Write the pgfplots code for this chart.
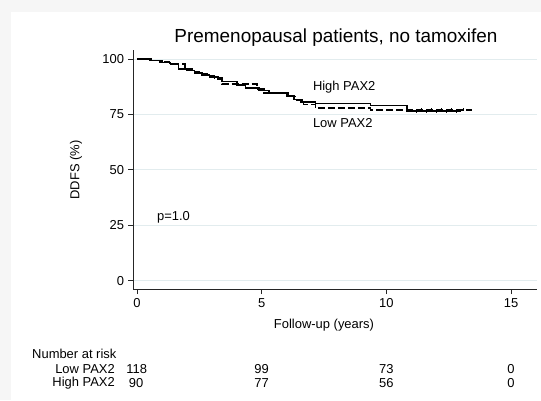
\documentclass[border=0pt]{standalone}
\usepackage{pgfplots}
\pgfplotsset{compat=1.18}
\usepackage{fontspec}
\setmainfont{Liberation Sans}
\definecolor{gridc}{RGB}{226,236,238}
\definecolor{outerbg}{RGB}{246,246,246}
\begin{document}
\begin{tikzpicture}[x=1bp,y=1bp]
\useasboundingbox (0,0) rectangle (541,400);
\fill[outerbg] (0,0) rectangle (541,400);
\fill[white] (11,0) rectangle (541,388);
\begin{axis}[
  at={(133bp,111bp)}, anchor=south west,
  scale only axis, width=404bp, height=239bp,
  xmin=-0.16, xmax=16.04, ymin=-3.74, ymax=104.06,
  axis x line*=bottom, axis y line*=left,
  axis line style={black!85, line width=0.9bp},
  xtick={0,5,10,15}, ytick={0,25,50,75,100},
  tick align=outside, major tick length=5bp,
  tick style={black!85, line width=0.9bp},
  ymajorgrids, grid style={gridc, line width=0.8bp},
  ticklabel style={font=\fontsize{13}{15}\selectfont},
  /pgf/number format/assume math mode=true,
  xticklabel style={yshift=-1bp},
  yticklabel style={xshift=-0.5bp},
  clip=false,
]
\addplot[const plot, black, line width=1.6bp] table {
x y
0 100
0.55 99.3
1.0 98.5
1.35 97.8
1.66 95.6
2.0 94.8
2.3 93.8
2.6 92.8
2.9 91.8
3.25 90.8
3.4 89.8
4.0 88.2
4.35 87.0
4.9 85.8
5.3 84.6
6.0 83.2
6.3 81.8
6.55 80.6
7.15 80.0
9.36 79.0
10.83 76.5
13.0 76.5
};
\addplot[const plot, black, line width=1.6bp, dash pattern=on 7bp off 3bp] table {
x y
0 100
0.5 99.4
0.9 98.6
1.3 97.8
1.93 95.4
2.2 94.3
2.5 93.2
2.8 92.2
3.1 91.3
3.4 88.6
4.8 86.6
5.1 84.6
6.06 83.0
6.4 81.6
6.68 79.4
7.15 77.8
9.36 77.0
13.45 77.0
};
\addplot[only marks, mark=|, mark size=1.5bp, black, line width=0.9bp] table {
x y
11.2 76.5
11.6 76.5
12.0 76.5
12.4 76.5
12.8 76.5
};
\addplot[only marks, mark=|, mark size=1.5bp, black, line width=0.9bp] table {
x y
11.4 77.0
11.8 77.0
12.2 77.0
12.6 77.0
13.1 77.0
};
\node[anchor=west, font=\fontsize{13}{15}\selectfont, inner sep=0pt] at (axis cs:7.05,87.1) {High PAX2};
\node[anchor=west, font=\fontsize{13}{15}\selectfont, inner sep=0pt] at (axis cs:7.05,70.9) {Low PAX2};
\node[anchor=west, font=\fontsize{13}{15}\selectfont, inner sep=0pt] at (axis cs:0.8,28.6) {p=1.0};
\end{axis}
% titles and labels
\node[anchor=base, font=\fontsize{19}{22}\selectfont, inner sep=0pt] at (336,357.4) {Premenopausal patients, no tamoxifen};
\node[font=\fontsize{13}{15}\selectfont, inner sep=0pt] at (324,75) {Follow-up (years)};
\node[rotate=90, font=\fontsize{13}{15}\selectfont, inner sep=0pt] at (76,230) {DDFS (\%)};
% number at risk
\begin{scope}[every node/.style={font=\fontsize{13}{15}\selectfont, inner sep=0pt}]
\node[anchor=west] at (32,46) {Number at risk};
\node[anchor=east] at (115,31) {Low PAX2};
\node[anchor=east] at (115,16.7) {High PAX2};
\node at (136.7,31) {118};
\node at (261.6,31) {99};
\node at (386.3,31) {73};
\node at (511,31) {0};
\node at (136,16.7) {90};
\node at (261.6,16.7) {77};
\node at (386.3,16.7) {56};
\node at (511,16.7) {0};
\end{scope}
\end{tikzpicture}
\end{document}
